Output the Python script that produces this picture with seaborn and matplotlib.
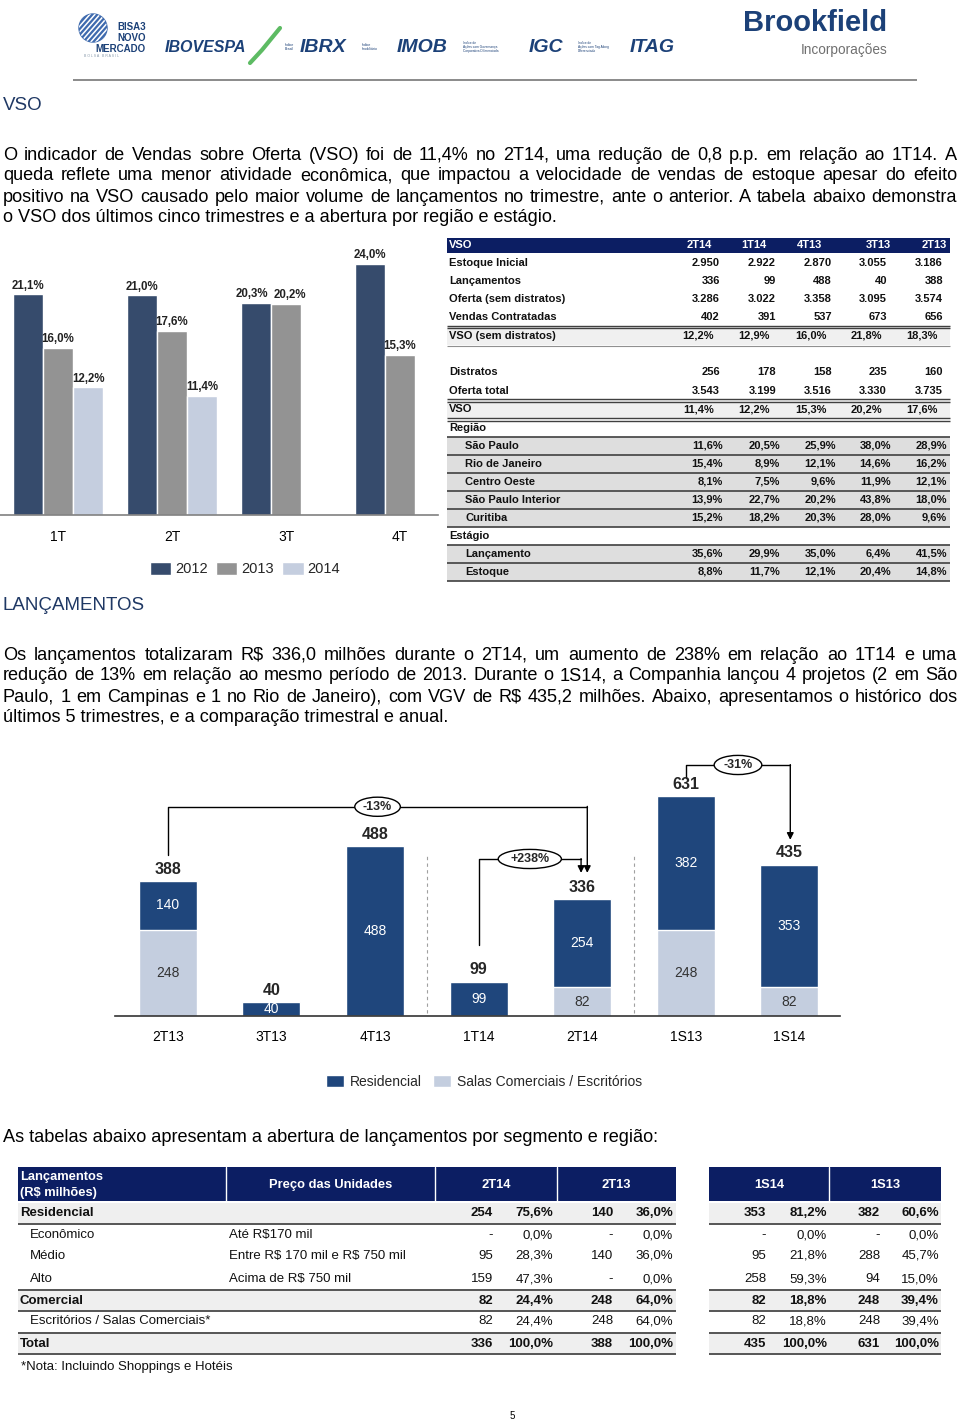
import numpy as np
import pandas as pd
import matplotlib
matplotlib.use('Agg')
import matplotlib.pyplot as plt
import seaborn as sns
from matplotlib.patches import Rectangle, Circle, Ellipse, Patch

# ---------------- dados: gráfico VSO ----------------
trimestres = ['1T', '2T', '3T', '4T']
anos = ['2012', '2013', '2014']
vso_2012 = [21.1, 21.0, 20.3, 24.0]
vso_2013 = [16.0, 17.6, 20.2, 15.3]
vso_2014 = [12.2, 11.4, np.nan, np.nan]

# ---------------- dados: tabela VSO ----------------
vso_cols = ['2T14', '1T14', '4T13', '3T13', '2T13']
estoque_inicial = ['2.950', '2.922', '2.870', '3.055', '3.186']
lanc_vso = ['336', '99', '488', '40', '388']
oferta_sem = ['3.286', '3.022', '3.358', '3.095', '3.574']
vendas = ['402', '391', '537', '673', '656']
vso_sem = ['12,2%', '12,9%', '16,0%', '21,8%', '18,3%']
distratos = ['256', '178', '158', '235', '160']
oferta_total = ['3.543', '3.199', '3.516', '3.330', '3.735']
vso_total = ['11,4%', '12,2%', '15,3%', '20,2%', '17,6%']
regioes = ['São Paulo', 'Rio de Janeiro', 'Centro Oeste', 'São Paulo Interior', 'Curitiba']
vso_regiao = [
    ['11,6%', '20,5%', '25,9%', '38,0%', '28,9%'],
    ['15,4%', '8,9%', '12,1%', '14,6%', '16,2%'],
    ['8,1%', '7,5%', '9,6%', '11,9%', '12,1%'],
    ['13,9%', '22,7%', '20,2%', '43,8%', '18,0%'],
    ['15,2%', '18,2%', '20,3%', '28,0%', '9,6%'],
]
estagios = ['Lançamento', 'Estoque']
vso_estagio = [
    ['35,6%', '29,9%', '35,0%', '6,4%', '41,5%'],
    ['8,8%', '11,7%', '12,1%', '20,4%', '14,8%'],
]

# ---------------- dados: gráfico lançamentos ----------------
periodos = ['2T13', '3T13', '4T13', '1T14', '2T14', '1S13', '1S14']
total_lanc = [388, 40, 488, 99, 336, 631, 435]
residencial = [140, 40, 488, 99, 254, 382, 353]
comercial = [248, 0, 0, 0, 82, 248, 82]
variacoes = ['-13%', '+238%', '-31%']

# ---------------- dados: tabela segmentos ----------------
seg_labels = ['Residencial', 'Econômico', 'Médio', 'Alto', 'Comercial',
              'Escritórios / Salas Comerciais*', 'Total']
seg_precos = ['', 'Até R$170 mil', 'Entre R$ 170 mil e R$ 750 mil', 'Acima de R$ 750 mil', '', '', '']
seg_2t14 = ['254', '-', '95', '159', '82', '82', '336']
pct_2t14 = ['75,6%', '0,0%', '28,3%', '47,3%', '24,4%', '24,4%', '100,0%']
seg_2t13 = ['140', '-', '140', '-', '248', '248', '388']
pct_2t13 = ['36,0%', '0,0%', '36,0%', '0,0%', '64,0%', '64,0%', '100,0%']
seg_1s14 = ['353', '-', '95', '258', '82', '82', '435']
pct_1s14 = ['81,2%', '0,0%', '21,8%', '59,3%', '18,8%', '18,8%', '100,0%']
seg_1s13 = ['382', '-', '288', '94', '248', '248', '631']
pct_1s13 = ['60,6%', '0,0%', '45,7%', '15,0%', '39,4%', '39,4%', '100,0%']

par1 = [
    'O indicador de Vendas sobre Oferta (VSO) foi de 11,4% no 2T14, uma redução de 0,8 p.p. em relação ao 1T14. A',
    'queda reflete uma menor atividade econômica, que impactou a velocidade de vendas de estoque apesar do efeito',
    'positivo na VSO causado pelo maior volume de lançamentos no trimestre, ante o anterior. A tabela abaixo demonstra',
    'o VSO dos últimos cinco trimestres e a abertura por região e estágio.',
]
par2 = [
    'Os lançamentos totalizaram R$ 336,0 milhões durante o 2T14, um aumento de 238% em relação ao 1T14 e uma',
    'redução de 13% em relação ao mesmo período de 2013. Durante o 1S14, a Companhia lançou 4 projetos (2 em São',
    'Paulo, 1 em Campinas e 1 no Rio de Janeiro), com VGV de R$ 435,2 milhões. Abaixo, apresentamos o histórico dos',
    'últimos 5 trimestres, e a comparação trimestral e anual.',
]

C2012, C2013, C2014 = '#364B6C', '#939393', '#C5CEDF'
C_RES, C_COM = '#1F467C', '#C4CEDF'
NAVY_TAB = '#0C1E63'
NAVY_TXT = '#1F3864'
LOGO = '#1C4178'
TXT_SIZE = 13.1

sns.set_theme(style='white')
plt.rcParams['font.family'] = ['Liberation Sans', 'DejaVu Sans']

fig = plt.figure(figsize=(9.6, 14.22), dpi=100)
fig.patch.set_facecolor('white')
pg = fig.add_axes([0, 0, 1, 1])
pg.set_xlim(0, 960)
pg.set_ylim(1422, 0)
pg.axis('off')


def t(x, y, s, size=9, ha='left', color='black', weight='normal', **kw):
    return pg.text(x, y, s, fontsize=size, ha=ha, va='center', color=color,
                   fontweight=weight, parse_math=False, **kw)


def hline(x0, x1, y, lw=1.2, color='#404040'):
    pg.plot([x0, x1], [y, y], color=color, lw=lw, solid_capstyle='butt')


def box(x0, y0, x1, y1, color):
    pg.add_patch(Rectangle((x0, y0), x1 - x0, y1 - y0, color=color, lw=0, zorder=0))


def paragrafo(linhas, x0, x1, y0, dy=21, size=TXT_SIZE):
    r = fig.canvas.get_renderer()
    for i, linha in enumerate(linhas):
        y = y0 + i * dy
        if i == len(linhas) - 1:
            t(x0, y, linha, size)
            continue
        palavras = linha.split()
        objs = [t(0, y, p, size) for p in palavras]
        larg = [o.get_window_extent(r).width for o in objs]
        gap = (x1 - x0 - sum(larg)) / (len(palavras) - 1)
        x = x0
        for o, w in zip(objs, larg):
            o.set_x(x)
            x += w + gap


def cabecalho():
    globo = Circle((93, 28), 14, color='#3E6AAE')
    pg.add_patch(globo)
    for k in range(-4, 5):
        ln, = pg.plot([79 + k * 5, 107 + k * 5], [44, 12], color='white', lw=1.1)
        ln.set_clip_path(globo)
    t(146, 27, 'BISA3', 7, ha='right', color=LOGO, weight='bold')
    t(146, 38, 'NOVO', 7, ha='right', color=LOGO, weight='bold')
    t(146, 49, 'MERCADO', 7, ha='right', color=LOGO, weight='bold')
    t(84, 56, 'B O L S A   B R A S I L', 2.5, color='#8899aa')
    t(165, 47, 'IBOVESPA', 11.5, color=LOGO, weight='bold', style='italic')
    pg.plot([250, 262, 280], [63, 50, 28], color='#5DBB63', lw=3, solid_capstyle='round')
    t(285, 47, 'Índice\nBrasil', 2.5, color=LOGO, linespacing=1)
    t(300, 47, 'IBRX', 14, color=LOGO, weight='bold', style='italic')
    t(362, 47, 'Índice\nImobiliário', 2.5, color=LOGO, linespacing=1)
    t(397, 47, 'IMOB', 14, color=LOGO, weight='bold', style='italic')
    t(463, 47, 'Índice de\nAções com Governança\nCorporativa Diferenciada', 2.3, color=LOGO, linespacing=1)
    t(529, 47, 'IGC', 14, color=LOGO, weight='bold', style='italic')
    t(578, 47, 'Índice de\nAções com Tag Along\nDiferenciado', 2.3, color=LOGO, linespacing=1)
    t(630, 47, 'ITAG', 14, color=LOGO, weight='bold', style='italic')
    t(887, 23, 'Brookfield', 21, ha='right', color=LOGO, weight='bold')
    t(887, 50, 'Incorporações', 9.8, ha='right', color='#707070')
    hline(73, 917, 80, lw=1.4, color='#8a8a8a')


def grafico_vso():
    ax = fig.add_axes([0, 1 - 515 / 1422, 438 / 960, 275 / 1422])
    ax.patch.set_alpha(0)
    df = pd.DataFrame({'trimestre': trimestres * 3,
                       'ano': np.repeat(anos, len(trimestres)),
                       'vso': vso_2012 + vso_2013 + vso_2014})
    sns.barplot(data=df, x='trimestre', y='vso', hue='ano', palette=[C2012, C2013, C2014],
                width=0.79, saturation=1, ax=ax, legend=False)
    # afastar os rótulos quando o terceiro ano não existe (3T)
    afasta = {(0, 2): -4, (1, 2): 4}
    for k, cont in enumerate(ax.containers):
        for b in cont:
            h = b.get_height()
            if np.isnan(h) or h == 0:
                continue
            q = int(round(b.get_x() + b.get_width() / 2))
            dx = afasta.get((k, q), 0)
            ax.annotate(f'{h:.1f}%'.replace('.', ','), (b.get_x() + b.get_width() / 2, h),
                        xytext=(dx * 0.72, 2), textcoords='offset points', ha='center', va='bottom',
                        fontsize=8.3, fontweight='bold', color='#222222')
    ax.set_xlim(-0.509, 3.333)
    ax.set_ylim(0, 26.3)
    ax.set_xlabel('')
    ax.set_ylabel('')
    ax.set_yticks([])
    for s in ['left', 'right', 'top']:
        ax.spines[s].set_visible(False)
    ax.spines['bottom'].set_color('#808080')
    ax.spines['bottom'].set_linewidth(1.2)
    ax.tick_params(axis='x', length=0, pad=11, labelsize=10, labelcolor='black')
    handles = [Patch(facecolor=c, label=a) for c, a in zip([C2012, C2013, C2014], anos)]
    fig.legend(handles=handles, loc='center', bbox_to_anchor=(245 / 960, 1 - 569 / 1422), ncol=3,
               frameon=False, fontsize=10.5, handlelength=1.45, handleheight=1.0,
               handletextpad=0.25, columnspacing=0.6, borderaxespad=0)


def tabela_vso():
    x0, x1 = 447, 950
    box(x0, 238, x1, 253, NAVY_TAB)
    t(449, 245.5, 'VSO', 8, color='white', weight='bold')
    for c, xr in zip(vso_cols, [712, 767, 822, 891, 947]):
        t(xr, 245.5, c, 8, ha='right', color='white', weight='bold')
    num_r = [720, 776, 832, 887, 943]
    pct_r = [714, 770, 827, 882, 938]
    reg_r = [723, 780, 836, 891, 947]

    linhas = [('Estoque Inicial', estoque_inicial), ('Lançamentos', lanc_vso),
              ('Oferta (sem distratos)', oferta_sem), ('Vendas Contratadas', vendas)]
    for i, (lab, vals) in enumerate(linhas):
        y = 263 + i * 18
        t(449, y, lab, 8, weight='bold', color='#111111')
        for v, xr in zip(vals, num_r):
            t(xr, y, v, 8, ha='right', weight='bold', color='#111111')
    box(x0, 327, x1, 345, '#F0F0F0')
    hline(x0, x1, 325.5, lw=1.0)
    hline(x0, x1, 328, lw=1.0)
    t(449, 336, 'VSO (sem distratos)', 8, weight='bold', color='#111111')
    for v, xr in zip(vso_sem, pct_r):
        t(xr, 336, v, 8, ha='right', weight='bold', color='#111111')
    hline(x0, x1, 345.5, lw=0.8, color='#909090')

    for i, (lab, vals) in enumerate([('Distratos', distratos), ('Oferta total', oferta_total)]):
        y = 372 + i * 19
        t(449, y, lab, 8, weight='bold', color='#111111')
        for v, xr in zip(vals, num_r):
            t(xr, y, v, 8, ha='right', weight='bold', color='#111111')
    box(x0, 400, x1, 418, '#F0F0F0')
    hline(x0, x1, 399, lw=1.0)
    hline(x0, x1, 401.5, lw=1.0)
    t(449, 409, 'VSO', 8, weight='bold', color='#111111')
    for v, xr in zip(vso_total, pct_r):
        t(xr, 409, v, 8, ha='right', weight='bold', color='#111111')
    hline(x0, x1, 418, lw=1.0)
    hline(x0, x1, 420.5, lw=1.0)

    t(449, 428, 'Região', 8, weight='bold', color='#111111')
    box(x0, 437, x1, 527, '#DEDEDE')
    for i, (lab, vals) in enumerate(zip(regioes, vso_regiao)):
        y = 446 + i * 18
        t(465, y, lab, 8, weight='bold', color='#111111')
        for v, xr in zip(vals, reg_r):
            t(xr, y, v, 8, ha='right', weight='bold', color='#111111')
        hline(x0, x1, y - 9)
    hline(x0, x1, 527)

    t(449, 536, 'Estágio', 8, weight='bold', color='#111111')
    box(x0, 545, x1, 581, '#DEDEDE')
    for i, (lab, vals) in enumerate(zip(estagios, vso_estagio)):
        y = 554 + i * 18
        t(465, y, lab, 8, weight='bold', color='#111111')
        for v, xr in zip(vals, reg_r):
            t(xr, y, v, 8, ha='right', weight='bold', color='#111111')
        hline(x0, x1, y - 9)
    hline(x0, x1, 581)


def colchete(ax, i, y_ini, y_top, y_fim, label, largura, xf):
    ax.plot([i, i, xf], [y_ini, y_top, y_top], color='black', lw=1)
    ax.annotate('', xy=(xf, y_fim), xytext=(xf, y_top + 1),
                arrowprops=dict(arrowstyle='-|>', color='black', lw=1, mutation_scale=10,
                                shrinkA=0, shrinkB=0))
    xc = (i + xf) / 2
    ax.add_patch(Ellipse((xc, y_top), largura, 55, facecolor='white', edgecolor='black', lw=1, zorder=5))
    ax.text(xc, y_top, label, ha='center', va='center', fontsize=9, fontweight='bold', zorder=6)


def grafico_lancamentos():
    ax = fig.add_axes([115 / 960, 1 - 1016 / 1422, 725 / 960, 266 / 1422])
    ax.patch.set_alpha(0)
    sns.barplot(x=periodos, y=total_lanc, color=C_RES, width=0.56, saturation=1, ax=ax)
    sns.barplot(x=periodos, y=comercial, color=C_COM, width=0.56, saturation=1, ax=ax)
    for k, (bt, bc) in enumerate(zip(ax.containers[0], ax.containers[1])):
        xc = bt.get_x() + bt.get_width() / 2
        ht, hc = bt.get_height(), bc.get_height()
        ax.text(xc, ht + 34, f'{total_lanc[k]}', ha='center', va='center', fontsize=11.5, fontweight='bold')
        ax.text(xc, (ht + hc) / 2, f'{residencial[k]}', ha='center', va='center', fontsize=10, color='white')
        if hc > 0:
            ax.text(xc, hc / 2, f'{comercial[k]}', ha='center', va='center', fontsize=10, color='#333333')
    for xv in [2.5, 4.5]:
        ax.plot([xv, xv], [10, 468], color='#a0a0a0', lw=0.8, ls=(0, (3, 3)))
    tl = total_lanc
    colchete(ax, 0, tl[0] + 75, 601, tl[4] + 75, variacoes[0], 0.44, 4.05)
    colchete(ax, 3, tl[3] + 105, 451, tl[4] + 75, variacoes[1], 0.61, 3.99)
    colchete(ax, 5, tl[5] + 53, 721, tl[6] + 71, variacoes[2], 0.46, 6.01)
    ax.set_xlim(-0.51, 6.49)
    ax.set_ylim(0, 764)
    ax.set_yticks([])
    ax.set_xlabel('')
    ax.set_ylabel('')
    for s in ['left', 'right', 'top']:
        ax.spines[s].set_visible(False)
    ax.spines['bottom'].set_color('#333333')
    ax.spines['bottom'].set_linewidth(1.2)
    ax.tick_params(axis='x', length=0, pad=10, labelsize=10, labelcolor='black')
    handles = [Patch(facecolor=C_RES, label='Residencial'),
               Patch(facecolor=C_COM, label='Salas Comerciais / Escritórios')]
    fig.legend(handles=handles, loc='center', bbox_to_anchor=(484 / 960, 1 - 1082 / 1422), ncol=2,
               frameon=False, fontsize=10, handlelength=1.3, handleheight=0.95,
               handletextpad=0.4, columnspacing=0.8, borderaxespad=0)


def tabela_segmentos():
    box(18, 1167, 676, 1201, NAVY_TAB)
    box(709, 1167, 941, 1201, NAVY_TAB)
    for xv in [226, 435, 557]:
        pg.plot([xv, xv], [1167, 1201], color='white', lw=1)
    pg.plot([829, 829], [1167, 1201], color='white', lw=1)
    t(20, 1177, 'Lançamentos', 9.3, color='white', weight='bold')
    t(20, 1193, '(R$ milhões)', 9.3, color='white', weight='bold')
    t(331, 1185, 'Preço das Unidades', 9.3, ha='center', color='white', weight='bold')
    t(496, 1185, '2T14', 9.3, ha='center', color='white', weight='bold')
    t(616, 1185, '2T13', 9.3, ha='center', color='white', weight='bold')
    t(769, 1185, '1S14', 9.3, ha='center', color='white', weight='bold')
    t(885, 1185, '1S13', 9.3, ha='center', color='white', weight='bold')

    ys = [1213, 1235, 1256, 1279, 1301, 1321, 1344]
    negrito = [True, False, False, False, True, False, True]
    cols = [(seg_2t14, 493), (pct_2t14, 553), (seg_2t13, 613), (pct_2t13, 673),
            (seg_1s14, 766), (pct_1s14, 827), (seg_1s13, 880), (pct_1s13, 939)]
    for i, y in enumerate(ys):
        w = 'bold' if negrito[i] else 'normal'
        if negrito[i]:
            box(18, y - 10, 676, y + 10, '#EFEFEF')
            box(709, y - 10, 941, y + 10, '#EFEFEF')
        t(20 if negrito[i] else 30, y, seg_labels[i], 9.5, weight=w, color='#111111')
        if seg_precos[i]:
            t(229, y, seg_precos[i], 9.5, color='#111111')
        for vals, xr in cols:
            t(xr, y, vals[i], 9.5, ha='right', weight=w, color='#111111')
    for y in [1224, 1290, 1311, 1333, 1354]:
        hline(18, 676, y, lw=1.4, color='#555555')
        hline(709, 941, y, lw=1.4, color='#555555')
    t(21, 1367, '*Nota: Incluindo Shoppings e Hotéis', 9.5, color='#111111')


def main():
    cabecalho()
    t(3, 105, 'VSO', 13.5, color=NAVY_TXT)
    paragrafo(par1, 3, 957, 155)
    grafico_vso()
    tabela_vso()
    t(3, 606, 'LANÇAMENTOS', 13.5, color=NAVY_TXT)
    paragrafo(par2, 3, 957, 655)
    grafico_lancamentos()
    t(3, 1137, 'As tabelas abaixo apresentam a abertura de lançamentos por segmento e região:', TXT_SIZE)
    tabela_segmentos()
    t(510, 1416, '5', 7)
    fig.savefig('out.png', dpi=100)


if __name__ == '__main__':
    main()
